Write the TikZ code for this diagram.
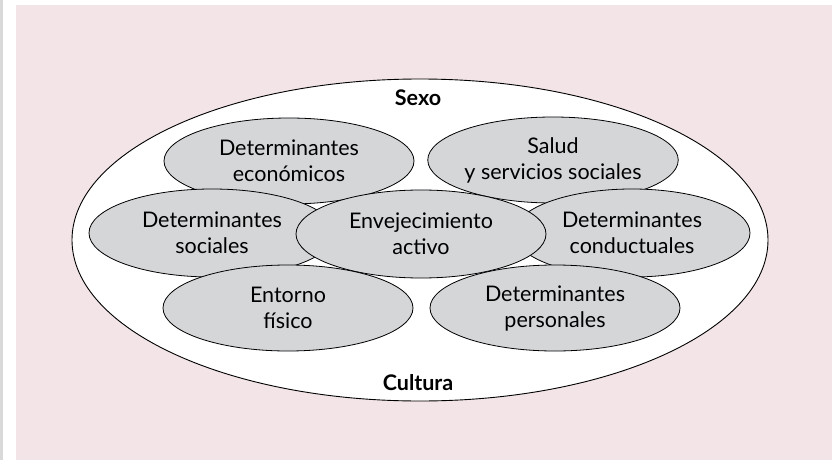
\documentclass[tikz,border=0pt]{standalone}
\usepackage{fontspec}
\setmainfont{Lato}
\usetikzlibrary{shapes.geometric}
\definecolor{fondo}{RGB}{242,228,231}
\definecolor{gris}{RGB}{212,214,216}
\begin{document}
\begin{tikzpicture}[x=1pt,y=-1pt,
  det/.style={ellipse,draw=black,fill=gris,line width=0.8pt,inner sep=0pt,align=center,
    font=\fontsize{21.5}{26}\selectfont,minimum width=250pt,minimum height=86pt},
  rotulo/.style={font=\fontsize{21.5}{26}\selectfont\bfseries}]
\useasboundingbox (0,0) rectangle (832,460);
\fill[white] (0,0) rectangle (832,460);
\fill[fondo] (16,5) rectangle (832,460);
\draw[black!15,line width=3pt] (1.5,0)--(1.5,460);

% contexto
\node[ellipse,draw=black,fill=white,line width=0.9pt,minimum width=696pt,minimum height=322pt] (marco) at (420,240) {};
\node[rotulo] (sexo) at (418,98) {Sexo};
\node[rotulo] (cultura) at (418,383) {Cultura};

% determinantes
\node[det] (economicos) at (289,161) {Determinantes\\económicos};
\node[det] (salud) at (553,160) {Salud\\y servicios sociales};
\node[det,minimum width=246pt,minimum height=88pt] (sociales) at (212,233) {Determinantes\\sociales};
\node[det,minimum width=236pt,minimum height=88pt] (conductuales) at (632,233) {Determinantes\\conductuales};
\node[det,minimum height=88pt] (activo) at (421,234) {Envejecimiento\\activo};
\node[det] (entorno) at (288,308) {Entorno\\físico};
\node[det] (personales) at (555,308) {Determinantes\\personales};

\end{tikzpicture}
\end{document}
